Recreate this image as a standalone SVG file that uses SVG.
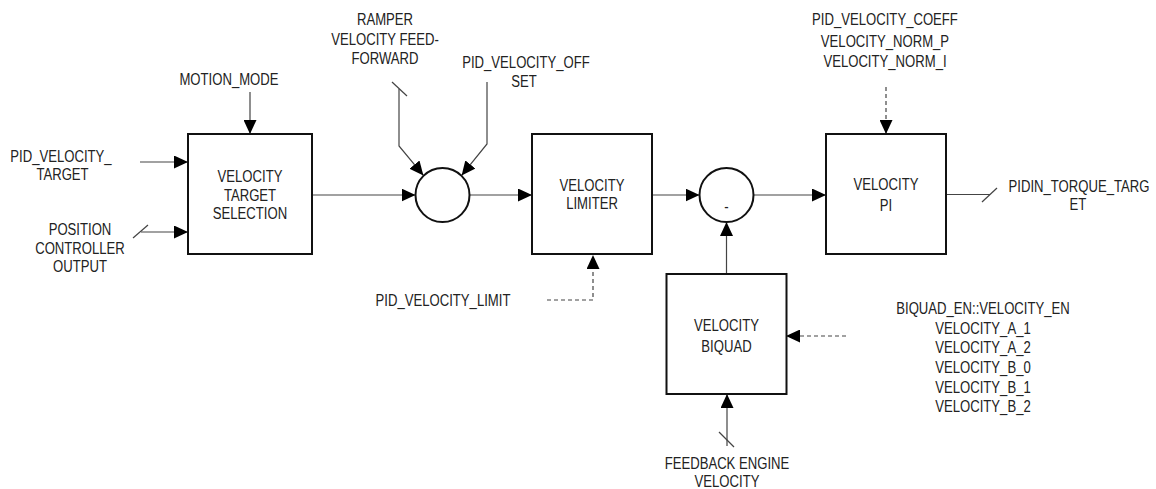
<svg xmlns="http://www.w3.org/2000/svg" width="1156" height="489" viewBox="0 0 1156 489">
<style>
.box{fill:#fff;stroke:#111;stroke-width:2}
.sum{fill:#fff;stroke:#111;stroke-width:2}
.ln{fill:none;stroke:#444;stroke-width:1.2}
.dash{fill:none;stroke:#444;stroke-width:1.2;stroke-dasharray:4 3}
.t{font-family:"Liberation Sans",Arial,sans-serif;font-size:16px;fill:#222;text-anchor:middle}
.nar{transform:scale(0.82,1)}
</style>
<defs>
<marker id="ah" markerUnits="userSpaceOnUse" markerWidth="14" markerHeight="13" refX="14" refY="6.5" orient="auto" viewBox="0 0 14 13">
<path d="M0,0 L14,6.5 L0,13 Z" fill="#000"/>
</marker>
</defs>

<g id="connectors">
<path class="ln" d="M250,92 V134" marker-end="url(#ah)"/>
<path class="ln" d="M140,162 H188" marker-end="url(#ah)"/>
<path class="ln" d="M141,232 H188" marker-end="url(#ah)"/>
<path class="ln" d="M133,238 L148,225"/>
<path class="ln" d="M312,195 H415.5" marker-end="url(#ah)"/>
<path class="ln" d="M399,89 V146 L423.4,175.4" marker-end="url(#ah)"/>
<path class="ln" d="M392,82 L407,96"/>
<path class="ln" d="M487,82 V144 L461.6,175.4" marker-end="url(#ah)"/>
<path class="ln" d="M469.5,195 H532" marker-end="url(#ah)"/>
<path class="dash" d="M547,300 H593 V255" marker-end="url(#ah)"/>
<path class="ln" d="M652,195 H699.5" marker-end="url(#ah)"/>
<path class="ln" d="M753.5,195 H826" marker-end="url(#ah)"/>
<path class="ln" d="M726.5,274 V222" marker-end="url(#ah)"/>
<path class="dash" d="M886,87 V134" marker-end="url(#ah)"/>
<path class="ln" d="M946,194.5 H990"/>
<path class="ln" d="M982,202 L997,188"/>
<path class="dash" d="M846,336 H786" marker-end="url(#ah)"/>
<path class="ln" d="M727,446 V394" marker-end="url(#ah)"/>
<path class="ln" d="M719,432 L734,447"/>
</g>

<g id="target-selection">
<rect class="box" x="188" y="134" width="124" height="120"/>
<g class="nar">
<text class="t" x="304.88" y="181.6">VELOCITY</text>
<text class="t" x="304.88" y="200.6">TARGET</text>
<text class="t" x="304.88" y="219.3">SELECTION</text>
</g>
</g>

<g id="sum1">
<circle class="sum" cx="442.5" cy="195" r="27"/>
</g>

<g id="limiter">
<rect class="box" x="532" y="134" width="120" height="120"/>
<g class="nar">
<text class="t" x="721.95" y="190.6">VELOCITY</text>
<text class="t" x="721.95" y="209.3">LIMITER</text>
</g>
</g>

<g id="sum2">
<circle class="sum" cx="726.5" cy="195" r="27"/>
<g class="nar">
<text class="t" x="885.98" y="212.5">-</text>
</g>
</g>

<g id="velocity-pi">
<rect class="box" x="826" y="134" width="120" height="120"/>
<g class="nar">
<text class="t" x="1080.49" y="190.3">VELOCITY</text>
<text class="t" x="1080.49" y="210.6">PI</text>
</g>
</g>

<g id="biquad">
<rect class="box" x="666.5" y="274" width="120" height="120"/>
<g class="nar">
<text class="t" x="885.98" y="331.5">VELOCITY</text>
<text class="t" x="885.98" y="351.6">BIQUAD</text>
</g>
</g>

<g id="label-motion-mode" class="nar">
<text class="t" x="279.27" y="85">MOTION_MODE</text>
</g>
<g id="label-pid-velocity-target" class="nar">
<text class="t" x="74.39" y="162.5">PID_VELOCITY_</text>
<text class="t" x="76.22" y="180.3">TARGET</text>
</g>
<g id="label-position-controller" class="nar">
<text class="t" x="97.56" y="235">POSITION</text>
<text class="t" x="97.56" y="254">CONTROLLER</text>
<text class="t" x="97.56" y="271.6">OUTPUT</text>
</g>
<g id="label-ramper" class="nar">
<text class="t" x="469.51" y="25">RAMPER</text>
<text class="t" x="469.51" y="45">VELOCITY FEED-</text>
<text class="t" x="469.51" y="64.1">FORWARD</text>
</g>
<g id="label-offset" class="nar">
<text class="t" x="641.46" y="67.8">PID_VELOCITY_OFF</text>
<text class="t" x="639.02" y="86.8">SET</text>
</g>
<g id="label-limit" class="nar">
<text class="t" x="540.24" y="305.8">PID_VELOCITY_LIMIT</text>
</g>
<g id="label-coeff" class="nar">
<text class="t" x="1079.27" y="25">PID_VELOCITY_COEFF</text>
<text class="t" x="1079.27" y="46.6">VELOCITY_NORM_P</text>
<text class="t" x="1079.27" y="66.6">VELOCITY_NORM_I</text>
</g>
<g id="label-torque-target" class="nar">
<text class="t" x="1315.85" y="191.6">PIDIN_TORQUE_TARG</text>
<text class="t" x="1314.63" y="210.3">ET</text>
</g>
<g id="label-biquad-params" class="nar">
<text class="t" x="1198.78" y="313.8">BIQUAD_EN::VELOCITY_EN</text>
<text class="t" x="1198.78" y="333.8">VELOCITY_A_1</text>
<text class="t" x="1198.78" y="353.3">VELOCITY_A_2</text>
<text class="t" x="1198.78" y="373.1">VELOCITY_B_0</text>
<text class="t" x="1198.78" y="392.6">VELOCITY_B_1</text>
<text class="t" x="1198.78" y="412.4">VELOCITY_B_2</text>
</g>
<g id="label-feedback" class="nar">
<text class="t" x="886.59" y="469.1">FEEDBACK ENGINE</text>
<text class="t" x="886.59" y="487.5">VELOCITY</text>
</g>
</svg>
